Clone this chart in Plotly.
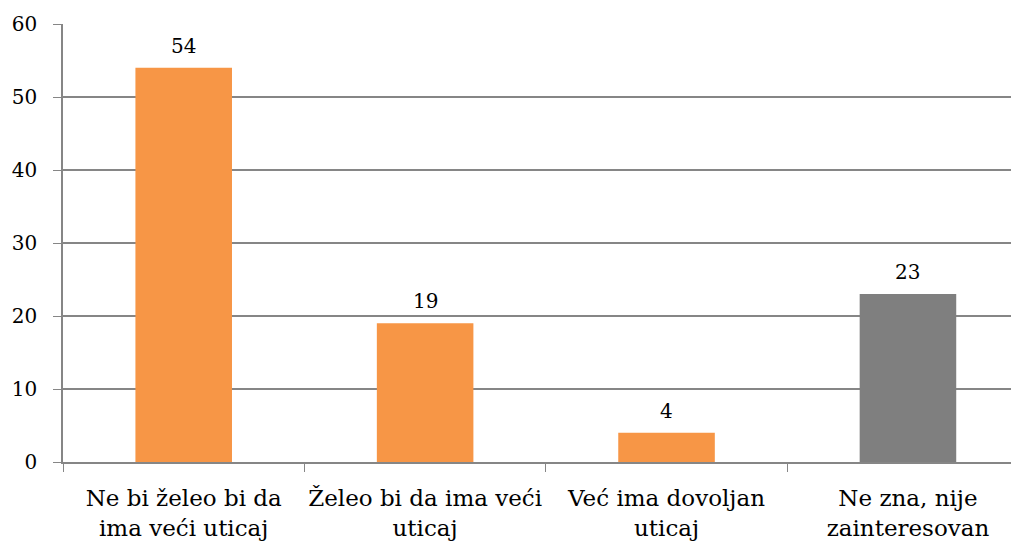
import plotly.graph_objects as go

categories = ["Ne bi želeo bi da<br>ima veći uticaj", "Želeo bi da ima veći<br>uticaj",
              "Već ima dovoljan<br>uticaj", "Ne zna, nije<br>zainteresovan"]
values = [54, 19, 4, 23]
colors = ["#F79646", "#F79646", "#F79646", "#7F7F7F"]

FONT = "DejaVu Serif"

fig = go.Figure(go.Bar(
    x=categories, y=values, marker_color=colors, marker_line_width=0,
    width=0.4,
))

for c, v in zip(categories, values):
    fig.add_annotation(x=c, y=v, text=str(v), showarrow=False,
                       yanchor="bottom", yshift=8,
                       font=dict(family=FONT, size=20, color="#000000"))

# page body has an 8px default margin, so the figure is sized 8px smaller
fig.update_layout(
    width=1011, height=541,
    margin=dict(l=55, r=0, t=16, b=87),
    plot_bgcolor="white", paper_bgcolor="white",
    showlegend=False,
    bargap=0.6,
)
fig.update_xaxes(
    range=[-0.5, 3.46], showline=True, linecolor="#868686", linewidth=1.5,
    tickson="boundaries", ticks="outside", ticklen=8, tickcolor="#868686",
    showgrid=False, automargin=False, ticklabelstandoff=15, tickangle=0,
    tickfont=dict(family=FONT, size=23, color="#000000"),
)
fig.update_yaxes(
    range=[0, 60], dtick=10, showline=True, linecolor="#868686", linewidth=1.5,
    ticks="outside", ticklen=8, tickcolor="#868686", automargin=False,
    showgrid=True, gridcolor="#868686", gridwidth=1.5, zeroline=False,
    ticklabelstandoff=12,
    tickfont=dict(family=FONT, size=20, color="#000000"),
)
fig.write_html("out.html")
